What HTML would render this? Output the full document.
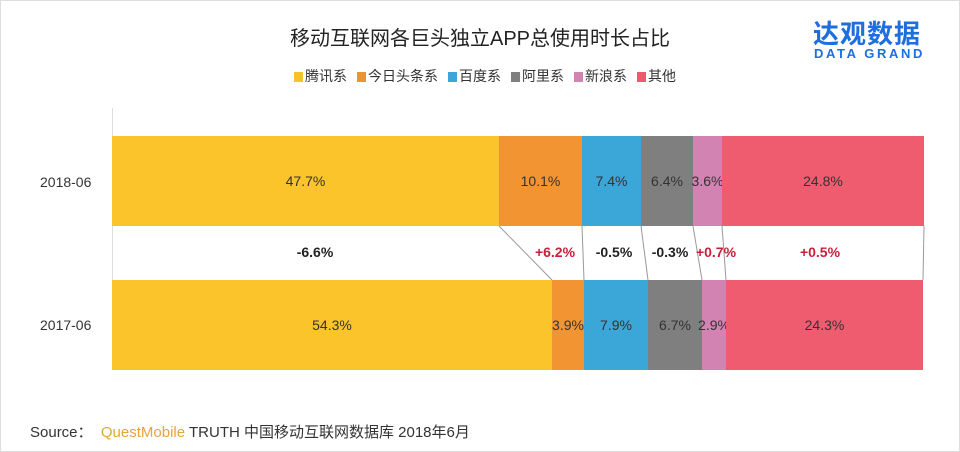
<!DOCTYPE html>
<html><head><meta charset="utf-8"><style>
body{margin:0;width:960px;height:452px;background:#fff;overflow:hidden;font-family:"Liberation Sans","Noto Sans CJK SC",sans-serif;position:relative}
.a{position:absolute}
.seg{position:absolute;display:flex;align-items:center;justify-content:center;font-size:14px;color:#333;white-space:nowrap}
.d{position:absolute;font-size:14px;font-weight:bold;transform:translateX(-50%);top:244px}
.leg{display:inline-block;width:9px;height:10px;margin:0 2px 0 10px;vertical-align:-1px}
</style></head><body>
<div class="a" style="left:0;top:0;width:958px;height:450px;border:1px solid #ddd"></div>
<div class="a" style="left:0;width:960px;top:22px;text-align:center;font-size:20px;color:#222">移动互联网各巨头独立APP总使用时长占比</div>
<div class="a" style="left:813px;top:14px;font-size:26px;font-weight:bold;color:#1d6fe0;letter-spacing:1px">达观数据</div>
<div class="a" style="left:814px;top:46px;font-size:13px;color:#1d6fe0;letter-spacing:2.6px;font-weight:bold">DATA GRAND</div>
<div class="a" style="left:0;width:960px;top:66px;text-align:center;font-size:14px;color:#333">
<span class="leg" style="background:#f4c12f"></span>腾讯系<span class="leg" style="background:#ee9331"></span>今日头条系<span class="leg" style="background:#3da6d9"></span>百度系<span class="leg" style="background:#7f7f7f"></span>阿里系<span class="leg" style="background:#d184b2"></span>新浪系<span class="leg" style="background:#ef5b6e"></span>其他</div>
<div class="a" style="left:112px;top:108px;width:1px;height:262px;background:#ddd"></div>
<div class="a" style="left:40px;top:174px;font-size:14px;color:#333">2018-06</div>
<div class="a" style="left:40px;top:317px;font-size:14px;color:#333">2017-06</div>
<div class="seg" style="left:112px;width:387px;top:136px;height:90px;background:#fbc42b">47.7%</div>
<div class="seg" style="left:499px;width:83px;top:136px;height:90px;background:#f39432">10.1%</div>
<div class="seg" style="left:582px;width:59px;top:136px;height:90px;background:#3ba6d8">7.4%</div>
<div class="seg" style="left:641px;width:52px;top:136px;height:90px;background:#7f7f7f">6.4%</div>
<div class="seg" style="left:693px;width:29px;top:136px;height:90px;background:#d283b2">3.6%</div>
<div class="seg" style="left:722px;width:202px;top:136px;height:90px;background:#f05c6f">24.8%</div>
<div class="seg" style="left:112px;width:440px;top:280px;height:90px;background:#fbc42b">54.3%</div>
<div class="seg" style="left:552px;width:32px;top:280px;height:90px;background:#f39432">3.9%</div>
<div class="seg" style="left:584px;width:64px;top:280px;height:90px;background:#3ba6d8">7.9%</div>
<div class="seg" style="left:648px;width:54px;top:280px;height:90px;background:#7f7f7f">6.7%</div>
<div class="seg" style="left:702px;width:24px;top:280px;height:90px;background:#d283b2">2.9%</div>
<div class="seg" style="left:726px;width:197px;top:280px;height:90px;background:#f05c6f">24.3%</div>
<svg class="a" style="left:0;top:0" width="960" height="452"><g stroke="#999" stroke-width="1">
<line x1="499" y1="226" x2="552" y2="280"/><line x1="582" y1="226" x2="584" y2="280"/><line x1="641" y1="226" x2="648" y2="280"/><line x1="693" y1="226" x2="702" y2="280"/><line x1="722" y1="226" x2="726" y2="280"/><line x1="924" y1="226" x2="923" y2="280"/></g></svg>
<div class="d" style="left:315px;color:#222">-6.6%</div>
<div class="d" style="left:555px;color:#c8203a">+6.2%</div>
<div class="d" style="left:614px;color:#222">-0.5%</div>
<div class="d" style="left:670px;color:#222">-0.3%</div>
<div class="d" style="left:716px;color:#c8203a">+0.7%</div>
<div class="d" style="left:820px;color:#c8203a">+0.5%</div>
<div class="a" style="left:30px;top:421px;font-size:15px;color:#333">Source：&nbsp;&nbsp;<span style="color:#e8a33a">QuestMobile</span> TRUTH 中国移动互联网数据库 2018年6月</div>
</body></html>
